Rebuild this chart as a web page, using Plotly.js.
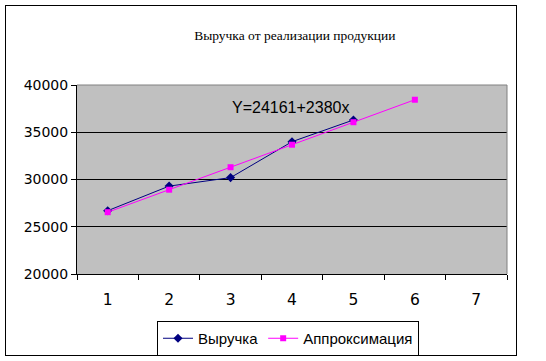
<!DOCTYPE html>
<html><head><meta charset="utf-8">
<script src="https://cdn.plot.ly/plotly-3.0.1.min.js"></script>
<style>body{margin:0;background:#fff}#wrap{position:relative;width:546px;height:361px}#chart{width:546px;height:361px}
#frame{position:absolute;left:5px;top:5px;width:510px;height:349px;border:1px solid #000;pointer-events:none;z-index:10}</style>
</head><body><div id="wrap"><div id="chart"></div><div id="frame"></div></div>
<script>
const categories = ["1","2","3","4","5","6","7"];
const revenueX = ["1","2","3","4","5"];
const revenue = [26700, 29300, 30200, 34000, 36300];
const approxX = ["1","2","3","4","5","6"];
const approx = [26541, 28921, 31301, 33681, 36061, 38441];
const yTicks = [20000, 25000, 30000, 35000, 40000];
const titleText = "Выручка от реализации продукции";
const equationText = "Y=24161+2380x";

const L = 77, R = 39, T = 85, B = 87, W = 546, H = 361;
const pw = W - L - R, ph = H - T - B;
const px = x => (x - L) / pw;
const py = y => (H - B - y) / ph;

const traces = [
  {x: revenueX, y: revenue, name: "Выручка", type: "scatter", mode: "lines+markers",
   line: {color: "#000080", width: 1}, marker: {symbol: "diamond", size: 7, color: "#000080"}},
  {x: approxX, y: approx, name: "Аппроксимация", type: "scatter", mode: "lines+markers",
   line: {color: "#ff00ff", width: 1}, marker: {symbol: "square", size: 6, color: "#ff00ff"}}
];

const layout = {
  width: W, height: H,
  margin: {l: L, r: R, t: T, b: B, autoexpand: false},
  paper_bgcolor: "#ffffff", plot_bgcolor: "#c0c0c0",
  showlegend: true,
  title: {text: titleText, font: {family: "Liberation Serif", size: 13.5, color: "#000"},
          x: 0.54, xref: "container", y: 1 - 35/361, yref: "container", xanchor: "center", yanchor: "middle"},
  xaxis: {type: "category", categoryorder: "array", categoryarray: categories,
          range: [-0.5, 6.5], tickson: "boundaries", ticks: "outside", ticklen: 5, tickcolor: "#000",
          showline: true, linecolor: "#000", linewidth: 1, showgrid: false, zeroline: false,
          ticklabelstandoff: 11, tickfont: {family: "DejaVu Sans", size: 15.5, color: "#000"}, fixedrange: true},
  yaxis: {range: [20000, 40000], tickvals: yTicks, ticktext: yTicks.map(String),
          ticks: "outside", ticklen: 5, tickcolor: "#000",
          showline: true, linecolor: "#000", linewidth: 1, showgrid: true, gridcolor: "#000", gridwidth: 1,
          zeroline: false, tickfont: {family: "DejaVu Sans", size: 14, color: "#000"}, fixedrange: true},
  legend: {orientation: "h", x: px(288), xanchor: "center", y: py(321), yanchor: "top",
           bordercolor: "#000", borderwidth: 1, bgcolor: "#fff", tracegroupgap: 0,
           font: {family: "Liberation Sans", size: 15, color: "#000"}, itemwidth: 30},
  annotations: [{text: equationText, xref: "paper", yref: "paper", x: px(290), y: py(107),
                 xanchor: "center", yanchor: "middle", showarrow: false,
                 font: {family: "Liberation Sans", size: 16, color: "#000"}}],
  shapes: [
    {type: "line", xref: "paper", yref: "paper", x0: 0, x1: 1, y0: 1, y1: 1, line: {color: "#808080", width: 1}},
    {type: "line", xref: "paper", yref: "paper", x0: 1, x1: 1, y0: 0, y1: 1, line: {color: "#808080", width: 1}}
  ]
};
Plotly.newPlot("chart", traces, layout, {displayModeBar: false, staticPlot: true});
</script></body></html>
